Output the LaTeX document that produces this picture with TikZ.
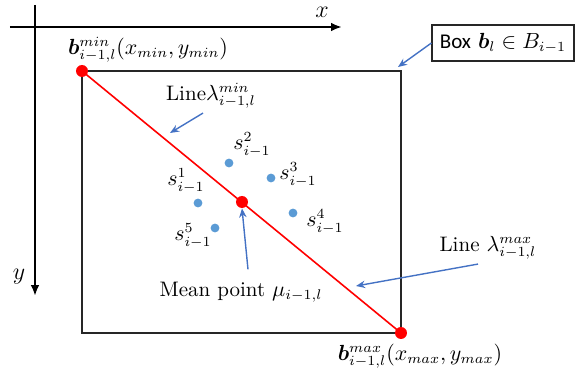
\documentclass[tikz,border=0pt]{standalone}
\usepackage{fontspec}
\usepackage{amsmath}
\usepackage{bm}
\usepackage{tikz}
\usetikzlibrary{arrows.meta, positioning}
\newfontfamily\boxfont{Carlito}
\definecolor{RedLine}{HTML}{FF0000}
\definecolor{PointerBlue}{HTML}{4472C4}
\definecolor{DotBlue}{HTML}{5B9BD5}
\definecolor{Frame}{HTML}{262626}

\begin{document}
\begin{tikzpicture}[
        x=0.5pt,
        y=-0.5pt,
        font=\fontsize{10.5}{12.5}\selectfont,
        axis/.style={-{Latex[length=1.9mm,width=1.5mm]}, line width=1.2pt, draw=black},
        pointer/.style={-{Stealth[length=1.6mm,width=1.3mm]}, line width=0.7pt, draw=PointerBlue},
        diag/.style={line width=0.8pt, draw=RedLine},
        corner/.style={circle, fill=RedLine, inner sep=0pt, minimum size=6pt},
        sample/.style={circle, fill=DotBlue, inner sep=0pt, minimum size=4.4pt},
        lab/.style={inner sep=1pt},
        boxlabel/.style={draw=Frame, line width=0.6pt, fill=white, inner sep=2pt, minimum width=71pt, minimum height=18pt}
      ]
        \useasboundingbox (0,0) rectangle (575,374);

        % axes
        \coordinate (xstart) at (10,27);
        \coordinate (xend) at (342,27);
        \coordinate (ystart) at (35,5);
        \coordinate (yend) at (35,296);
        \draw[axis] (xstart) -- (xend);
        \draw[axis] (ystart) -- (yend);
        \node[lab] (xlab) at (322,12) {\fontsize{13}{15}\selectfont$x$};
        \node[lab] (ylab) at (19,277) {\fontsize{13}{15}\selectfont$y$};

        % box and its diagonal
        \coordinate (bmin) at (82,71);
        \coordinate (bmax) at (401,333);
        \draw[line width=1pt, draw=Frame] (bmin) rectangle (bmax);
        \draw[diag] (bmin) -- (bmax);
        \node[corner] (cmin) at (bmin) {};
        \node[corner] (cmax) at (bmax) {};
        \node[corner] (mean) at (242,202) {};

        % samples
        \node[sample] (s1) at (198,203) {};
        \node[sample] (s2) at (229,163) {};
        \node[sample] (s3) at (271,178) {};
        \node[sample] (s4) at (293,213) {};
        \node[sample] (s5) at (215,228) {};
        \node[lab] (s1lab) at (186,181) {$s^{1}_{i-1}$};
        \node[lab] (s2lab) at (252,145) {$s^{2}_{i-1}$};
        \node[lab] (s3lab) at (298,175) {$s^{3}_{i-1}$};
        \node[lab] (s4lab) at (325,222) {$s^{4}_{i-1}$};
        \node[lab] (s5lab) at (193,236) {$s^{5}_{i-1}$};

        % labels
        \node[lab] (minlab) at (148,50) {$\bm{b}^{min}_{i-1,l}(x_{min},y_{min})$};
        \node[lab] (maxlab) at (420,356) {$\bm{b}^{max}_{i-1,l}(x_{max},y_{max})$};
        \node[lab] (linmin) at (211,96) {Line$\lambda^{min}_{i-1,l}$};
        \node[lab] (linmax) at (488,248) {Line $\lambda^{max}_{i-1,l}$};
        \node[lab] (meanlab) at (241,292) {Mean point $\mu_{i-1,l}$};
        \node[boxlabel] (boxlab) at (503,43) {{\boxfont Box} $\bm{b}_l\in B_{i-1}$};

        % pointers
        \coordinate (boxtip) at (398,67);
        \coordinate (mintip) at (170,133);
        \coordinate (maxtip) at (356,286);
        \draw[pointer] (boxlab.west) -- (boxtip);
        \draw[pointer] ([xshift=-4pt,yshift=-1pt]linmin.south) -- (mintip);
        \draw[pointer] ([xshift=-5pt,yshift=-1pt]linmax.south) -- (maxtip);
        \draw[pointer] ([xshift=3.5pt,yshift=5pt]meanlab.north) -- (mean.south);
      \end{tikzpicture}
\end{document}
